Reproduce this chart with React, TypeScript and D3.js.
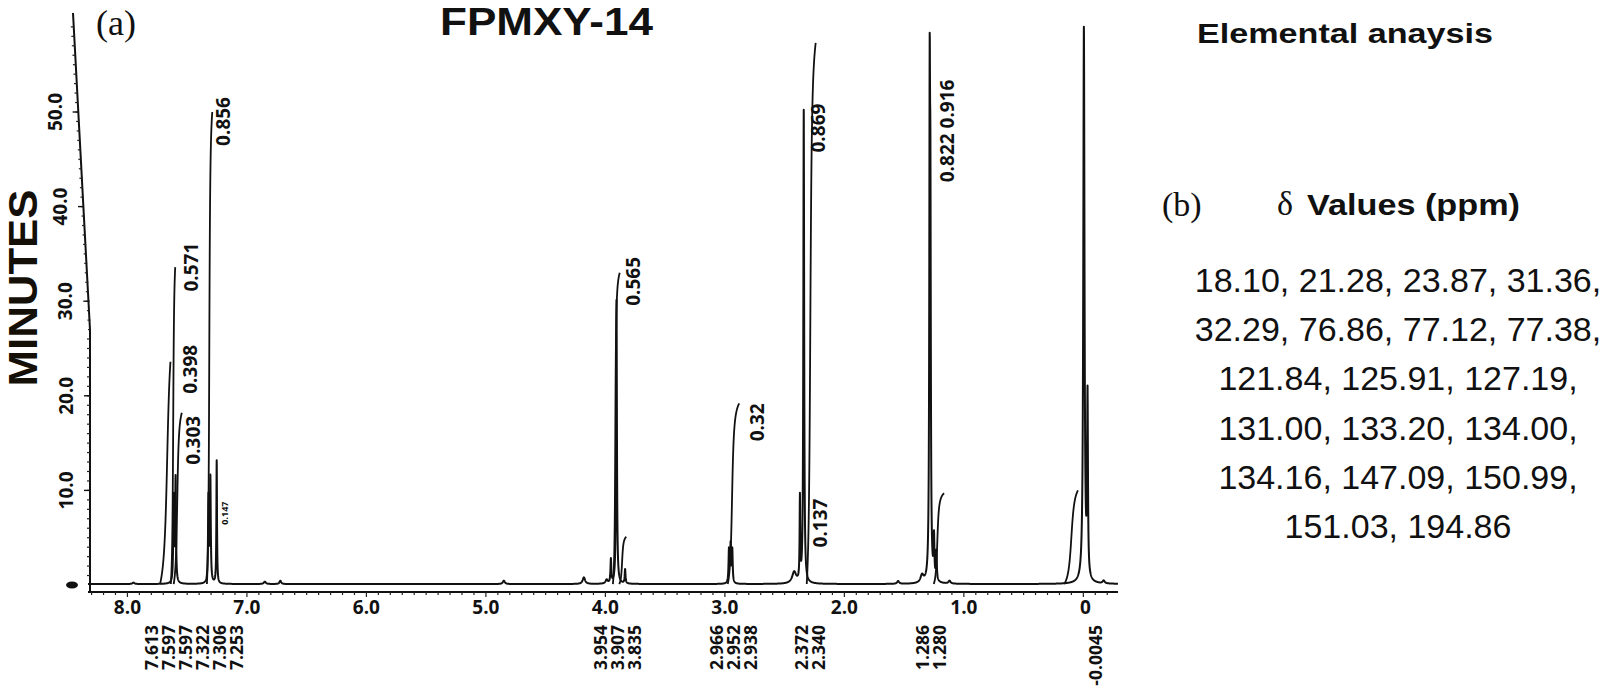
import React from 'react'
import * as d3 from 'd3'

// axis ticks
const xTicks = [8, 7, 6, 5, 4, 3, 2, 1, 0]
const xTickLabels = ['8.0', '7.0', '6.0', '5.0', '4.0', '3.0', '2.0', '1.0', '0']
const yTicks = [10, 20, 30, 40, 50]
const yTickLabels = ['10.0', '20.0', '30.0', '40.0', '50.0']

// spectrum peaks: position (ppm), height (chart units), half width (ppm)
const peakPpm = [7.95, 7.613, 7.597, 7.322, 7.306, 7.253, 6.85, 6.72, 4.85, 4.18, 3.99, 3.954, 3.907, 3.835,
  2.966, 2.952, 2.938, 2.42, 2.372, 2.34, 1.55, 1.35, 1.286, 1.28, 1.25, 1.23, 1.12, -0.0045, -0.035, -0.17]
const peakHeight = [0.15, 9, 11, 9, 11, 13, 0.25, 0.35, 0.35, 0.7, 0.4, 2.5, 30, 1.5,
  3.5, 4, 3.5, 1.2, 8.7, 50, 0.3, 0.8, 48, 33, 4.4, 3, 0.3, 58.6, 18.8, 0.3]
const peakWidth = [0.01, 0.004, 0.004, 0.004, 0.004, 0.003, 0.01, 0.008, 0.01, 0.012, 0.01, 0.004, 0.004, 0.004,
  0.004, 0.004, 0.004, 0.02, 0.003, 0.004, 0.01, 0.015, 0.004, 0.004, 0.004, 0.004, 0.01, 0.006, 0.004, 0.01]
const baselineLevel = 0.1

// integral traces: centre (ppm), spread (ppm), height reached, plateau end (ppm)
const integralCenter = [7.667, 7.617, 7.583, 7.315, 3.917, 3.86, 2.94, 2.285, 1.222, 0.1]
const integralSpread = [0.02, 0.006, 0.01, 0.006, 0.005, 0.008, 0.012, 0.01, 0.01, 0.02]
const integralTop = [23.6, 33.6, 18.2, 50, 33, 5.1, 19.2, 57.3, 9.7, 10]
const integralEnd = [7.64, 7.6, 7.545, 7.29, 3.88, 3.825, 2.88, 2.24, 1.165, 0.045]

// integral values printed on the trace
const integralLabels = ['0.398', '0.571', '0.303', '0.856', '0.147', '0.565', '0.32', '0.137', '0.869', '0.822  0.916']
const integralLabelPpm = [7.473, 7.465, 7.448, 7.197, 7.19, 3.766, 2.728, 2.201, 2.218, 1.141]
const integralLabelValue = [22.8, 33.6, 15.3, 49.0, 7.6, 32.1, 17.2, 6.55, 48.3, 48.0]

// peak picking list under the axis
const peakGroups = [
  ['7.613', '7.597', '7.597', '7.322', '7.306', '7.253'],
  ['3.954', '3.907', '3.835'],
  ['2.966', '2.952', '2.938'],
  ['2.372', '2.340'],
  ['1.286', '1.280'],
  ['-0.0045'],
]
const groupNudge = [0, 0, 2, 8, 0, 11]

// 13C values, panel (b)
const deltaValues = ['18.10', '21.28', '23.87', '31.36', '32.29', '76.86', '77.12', '77.38', '121.84', '125.91',
  '127.19', '131.00', '133.20', '134.00', '134.16', '147.09', '150.99', '151.03', '194.86']
const valuesPerLine = [4, 4, 3, 3, 3, 2]

const boldFont = '"Open Sans", sans-serif'
const arial = '"Liberation Sans", Arial, sans-serif'
const serif = '"Liberation Serif", "Times New Roman", serif'

function lorentz(p: number, c: number, h: number, w: number) {
  return h * w * w / ((p - c) * (p - c) + w * w)
}

export default function App() {
  const width = 1605
  const height = 695

  const x = d3.scaleLinear().domain([8.33, -0.29]).range([88, 1118])
  const y = d3.scaleLinear().domain([0, 60]).range([585, 17.4])
  const axisY = y(0) + 7

  // y axis in the scan leans to the left towards the top
  const axisX = (py: number) => (py > 330 ? 90 : 73 + (py - 13) * (18 / 317))

  const samples = d3.range(8.33, -0.29, -0.0012).concat(peakPpm).sort((a, b) => b - a)
  const spectrum = samples.map(p => ({
    p,
    v: baselineLevel + d3.sum(peakPpm, (c, i) => lorentz(p, c, peakHeight[i], peakWidth[i])),
  }))

  const line = d3.line<{ p: number; v: number }>()
    .x(d => x(d.p))
    .y(d => y(d.v))

  const integrals = integralCenter.map((c, i) => {
    const g = integralSpread[i]
    const from = c + Math.max(3 * g, 0.02)
    const to = integralEnd[i]
    const F = (p: number) => Math.atan((c - p) / g)
    const f0 = F(from), f1 = F(to)
    const pts = d3.range(from, to, -0.0005).concat([to])
      .map(p => ({ p, v: baselineLevel + (integralTop[i] - baselineLevel) * (F(p) - f0) / (f1 - f0) }))
    return line(pts)
  })

  const xMinor = d3.range(-2, 84).map(k => k / 10)
  const yMinor = d3.range(1, 60)

  const axisPath = d3.line()([[90, axisY], [90, 330], [73, 13]])

  let start = 0
  const valueLines = valuesPerLine.map(n => {
    const items = deltaValues.slice(start, start + n)
    start += n
    const last = start >= deltaValues.length
    return items.join(', ') + (last ? '' : ',')
  })

  return (
    <svg width={width} height={height} style={{ position: 'absolute', left: 0, top: 0, background: '#fff' }}>
      {/* spectrum */}
      <path d={line(spectrum) || ''} fill="none" stroke="#111" strokeWidth={2} strokeLinejoin="round" />
      {integrals.map((d, i) => (
        <path key={'int' + i} d={d || ''} fill="none" stroke="#111" strokeWidth={1.8} />
      ))}

      {/* x axis */}
      <line x1={x(8.33)} x2={x(-0.29)} y1={axisY} y2={axisY} stroke="#111" strokeWidth={2.2} />
      {xMinor.map(t => (
        <line key={'xm' + t} x1={x(t)} x2={x(t)} y1={axisY} y2={axisY + (Math.abs(t - Math.round(t)) < 0.01 ? 5 : 3)}
          stroke="#222" strokeWidth={1.2} />
      ))}
      {xTicks.map((t, i) => (
        <text key={'xt' + t} x={x(t) + (t === 0 ? 2 : 0)} y={axisY + 22} textAnchor="middle" fontFamily={boldFont}
          fontWeight={700} fontSize={19} fill="#111">{xTickLabels[i]}</text>
      ))}

      {/* y axis */}
      <path d={axisPath || ''} fill="none" stroke="#111" strokeWidth={2} />
      {yMinor.map(t => (
        <line key={'ym' + t} x1={axisX(y(t)) - 3} x2={axisX(y(t))} y1={y(t)} y2={y(t)} stroke="#222" strokeWidth={1.2} />
      ))}
      {yTicks.map((t, i) => {
        const ax = axisX(y(t))
        return (
          <g key={'yt' + t}>
            <line x1={ax - 6} x2={ax} y1={y(t)} y2={y(t)} stroke="#111" strokeWidth={1.4} />
            <text transform={`translate(${ax - 24},${y(t)}) rotate(-90)`} textAnchor="middle" dominantBaseline="central"
              fontFamily={boldFont} fontWeight={700} fontSize={19} fill="#111">{yTickLabels[i]}</text>
          </g>
        )
      })}
      <ellipse cx={72} cy={y(0)} rx={6} ry={3.5} fill="#111" />

      <text transform="translate(37,288) rotate(-90)" textAnchor="middle" fontFamily={arial} fontWeight={700}
        fontSize={40} textLength={197} lengthAdjust="spacingAndGlyphs" fill="#141008">MINUTES</text>

      {/* integral values */}
      {integralLabels.map((l, i) => (
        <text key={'il' + i} transform={`translate(${x(integralLabelPpm[i])},${y(integralLabelValue[i])}) rotate(-90)`}
          textAnchor="middle" dominantBaseline="central" fontFamily={boldFont} fontWeight={700}
          fontSize={l === '0.147' ? 9 : 19} fill="#111">{l}</text>
      ))}

      {/* peak list */}
      {peakGroups.map((g, gi) => {
        const cx = x(d3.mean(g, d => +d) as number) + groupNudge[gi]
        return g.map((l, i) => {
          const px = cx + (i - (g.length - 1) / 2) * 17
          return (
            <text key={'pk' + gi + '-' + i} transform={`translate(${px},625) rotate(-90)`} textAnchor="end"
              dominantBaseline="central" fontFamily={boldFont} fontWeight={700} fontSize={17.5} fill="#111">{l}</text>
          )
        })
      })}

      {/* titles */}
      <text x={96} y={35} fontFamily={serif} fontSize={36} fill="#111">(a)</text>
      <text x={440} y={35} fontFamily={arial} fontWeight={700} fontSize={38} textLength={213}
        lengthAdjust="spacingAndGlyphs" fill="#111">FPMXY-14</text>

      {/* panel b */}
      <text x={1197} y={43} fontFamily={arial} fontWeight={700} fontSize={27} textLength={296}
        lengthAdjust="spacingAndGlyphs" fill="#111">Elemental anaysis</text>
      <text x={1162} y={216} fontFamily={serif} fontSize={34} fill="#111">(b)</text>
      <text x={1277} y={215} fontFamily={serif} fontSize={34} fill="#111">δ</text>
      <text x={1307} y={215} fontFamily={arial} fontWeight={700} fontSize={30} textLength={213}
        lengthAdjust="spacingAndGlyphs" fill="#111">Values (ppm)</text>
      {valueLines.map((l, i) => (
        <text key={'vl' + i} x={1398} y={292 + i * 49.2} textAnchor="middle" fontFamily={arial} fontSize={34}
          fill="#111">{l}</text>
      ))}
    </svg>
  )
}
